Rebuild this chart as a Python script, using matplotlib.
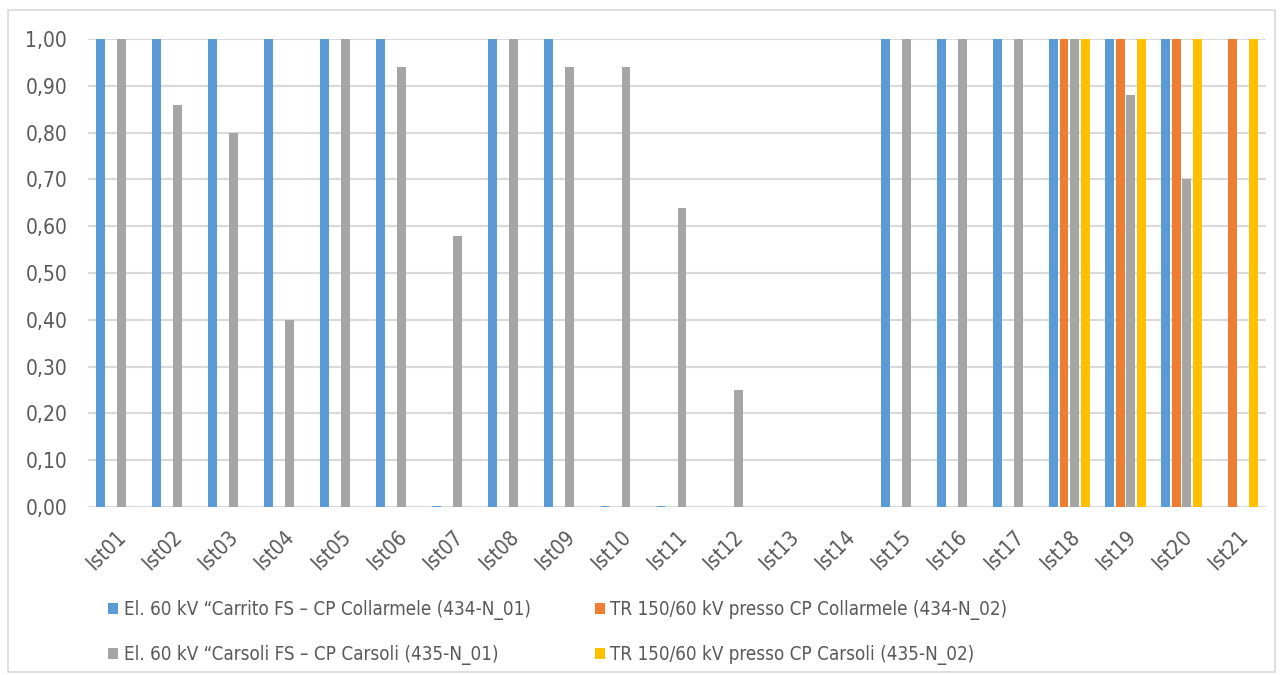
import numpy as np
import matplotlib
matplotlib.use("Agg")
from matplotlib import pyplot as plt
from matplotlib.patches import Rectangle
from matplotlib.ticker import FuncFormatter

categories = ["Ist%02d" % i for i in range(1, 22)]

carrito = [1, 1, 1, 1, 1, 1, 0.003, 1, 1, 0.003, 0.003, 0, 0, 0, 1, 1, 1, 1, 1, 1, 0]
tr_collarmele = [0] * 17 + [1, 1, 1, 1]
carsoli = [1.0, 0.86, 0.80, 0.40, 1.0, 0.94, 0.58, 1.0, 0.94, 0.94, 0.64, 0.25,
           0, 0, 1.0, 1.0, 1.0, 1.0, 0.88, 0.70, 0]
tr_carsoli = [0] * 17 + [1, 1, 1, 1]

series_labels = [
    "El. 60 kV \u201cCarrito FS \u2013 CP Collarmele (434-N_01)",
    "TR 150/60 kV presso CP Collarmele (434-N_02)",
    "El. 60 kV \u201cCarsoli FS \u2013 CP Carsoli (435-N_01)",
    "TR 150/60 kV presso CP Carsoli (435-N_02)",
]
series_values = [carrito, tr_collarmele, carsoli, tr_carsoli]
colors = ["#5B9BD5", "#ED7D31", "#A5A5A5", "#FFC000"]

text_color = "#595959"
grid_color = "#D9D9D9"

plt.rcParams["font.family"] = ["DejaVu Sans"]
plt.rcParams["font.stretch"] = "condensed"

fig = plt.figure(figsize=(12.8, 6.75), dpi=100)
ax = fig.add_axes([0.06875, 0.249, 0.92, 0.693])

x = np.arange(len(categories))
slot = 0.1875
offsets = (np.arange(4) - 1.5) * slot
handles = []
for vals, off, col, lab in zip(series_values, offsets, colors, series_labels):
    v = np.array(vals, dtype=float)
    v[v == 0] = np.nan
    h = ax.bar(x + off, v, width=slot * 0.84, color=col, linewidth=0,
               label=lab, zorder=3)
    handles.append(h)

ax.set_xlim(-0.5, len(categories) - 0.5)
ax.set_ylim(0, 1.0)
ax.set_yticks(np.arange(0, 1.01, 0.1))
ax.yaxis.set_major_formatter(FuncFormatter(lambda v, p: ("%.2f" % v).replace(".", ",")))
ax.grid(axis="y", color=grid_color, linewidth=1.5, zorder=0)
ax.set_axisbelow(True)
for s in ["top", "right", "left", "bottom"]:
    ax.spines[s].set_visible(False)
ax.tick_params(axis="both", length=0, colors=text_color, labelsize=15)
ax.tick_params(axis="y", pad=15)
ax.set_xticks(x)
ax.set_xticklabels(categories, rotation=45, ha="right", rotation_mode="anchor")
ax.tick_params(axis="x", pad=14)

# column-wise fill: order so rows read blue/orange, gray/yellow
order = [0, 2, 1, 3]
leg = fig.legend([handles[i] for i in order], [series_labels[i] for i in order],
                 loc="lower left", bbox_to_anchor=(0.0785, 0.004), ncol=2,
                 frameon=False, fontsize=13.5, handlelength=0.55, handleheight=0.55,
                 handletextpad=0.3, columnspacing=3.4, labelspacing=1.3,
                 borderaxespad=0)
for t in leg.get_texts():
    t.set_color(text_color)

fig.patches.append(Rectangle((0.006, 0.005), 0.99, 0.98, transform=fig.transFigure,
                             fill=False, edgecolor=grid_color, linewidth=1.2))

fig.savefig("out.png", dpi=100)
